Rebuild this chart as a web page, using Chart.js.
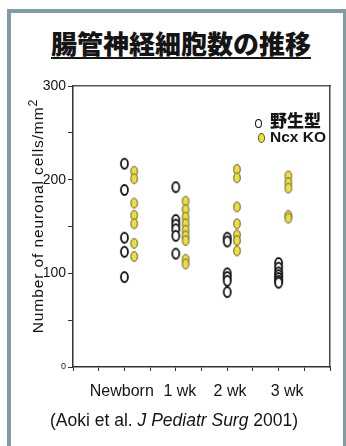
<!DOCTYPE html>
<html>
<head>
<meta charset="utf-8">
<script src="https://cdn.jsdelivr.net/npm/chart.js@4/dist/chart.umd.min.js"></script>
<style>
    html, body { margin: 0; padding: 0; background: #fff; }
    #wrap { position: relative; width: 346px; height: 446px; background: #fff; overflow: hidden; }
    .bar { position: absolute; background: #7f9ea4; }
    #title {
        position: absolute; top: 30px; left: 8px; width: 346px; text-align: center;
        font: 900 26px/26px "Noto Sans CJK JP", sans-serif; color: #151515;
        text-decoration: underline; text-decoration-thickness: 2px; text-underline-offset: 3px;
    }
    #chart { position: absolute; left: 0; top: 0; }
    #ytitle {
        position: absolute; left: -92px; top: 207px; width: 260px; height: 18px;
        text-align: center; transform: rotate(-90deg); letter-spacing: 0.9px;
        font: 15.5px/18px "Liberation Sans", sans-serif; color: #111;
    }
    #ytitle sup { font-size: 0.8em; line-height: 0; }
    #legend { position: absolute; left: 254px; top: 107px; color: #151515; }
    #legend .row { height: 20px; line-height: 20px; white-space: nowrap; }
    #legend .mk { display: inline-block; vertical-align: middle; border-radius: 50%; box-sizing: border-box; }
    #source {
        position: absolute; left: 50px; top: 410px; white-space: nowrap;
        font: 17.5px/20px "Liberation Sans", sans-serif; color: #151515;
    }
</style>
</head>
<body>
<div id="wrap">
    <div class="bar" style="left:7px;top:9px;width:339px;height:4px"></div>
    <div class="bar" style="left:7px;top:9px;width:4px;height:437px"></div>
    <div class="bar" style="left:343px;top:9px;width:3px;height:437px"></div>
    <div id="title">腸管神経細胞数の推移</div>
    <canvas id="chart" width="346" height="446"></canvas>
    <div id="ytitle">Number of neuronal cells/mm<sup>2</sup></div>
    <div id="legend"></div>
    <div id="source">(Aoki et al. <i>J Pediatr Surg</i> 2001)</div>
</div>
<script>
// data
const groups = ['Newborn', '1 wk', '2 wk', '3 wk'];
const seriesNames = ['野生型', 'Ncx KO'];
const wildType = [
    [217, 189, 138, 123, 96],
    [192, 157, 152, 147, 140, 121],
    [138, 134, 100, 96, 92, 80],
    [111, 106, 101, 98, 95, 92, 90]
];
const ncxKO = [
    [209, 201, 175, 162, 153, 132, 118],
    [177, 168, 160, 153, 146, 140, 135, 115, 110],
    [211, 202, 171, 153, 141, 135, 124],
    [204, 197, 191, 162, 159]
];
const yTicks = [0, 100, 200, 300];

// where each group sits on the 0..10 x axis, and where its label is centred
const groupPos = [2, 4, 6, 8];
const labelPos = [1.9, 4.16, 6.11, 8.33];
const koShift = 0.38;

const FONT = '"Liberation Sans", sans-serif';
const WT_FILL = '#ffffff', WT_LINE = '#151515';
const KO_FILL = '#f0e12e', KO_LINE = '#555555';

function ellipseMarker(w, h, fill, stroke, lw) {
    const c = document.createElement('canvas');
    c.width = w + 4;
    c.height = h + 4;
    const g = c.getContext('2d');
    g.beginPath();
    g.ellipse(c.width / 2, c.height / 2, w / 2, h / 2, 0, 0, Math.PI * 2);
    g.fillStyle = fill;
    g.fill();
    g.lineWidth = lw;
    g.strokeStyle = stroke;
    g.stroke();
    return c;
}

const toPoints = (sets, shift) =>
    sets.flatMap((vals, i) => vals.map(v => ({ x: groupPos[i] + shift, y: v })));

const datasets = [
    {
        label: seriesNames[0],
        data: toPoints(wildType, 0),
        pointStyle: ellipseMarker(7, 10, WT_FILL, WT_LINE, 1.8)
    },
    {
        label: seriesNames[1],
        data: toPoints(ncxKO, koShift),
        pointStyle: ellipseMarker(6.5, 9.5, KO_FILL, KO_LINE, 1)
    }
];

// html legend
const legend = document.getElementById('legend');
seriesNames.forEach((name, i) => {
    const row = document.createElement('div');
    row.className = 'row';
    const mk = document.createElement('span');
    mk.className = 'mk';
    mk.style.width = '7px';
    mk.style.height = i === 0 ? '9px' : '10px';
    mk.style.marginLeft = i === 0 ? '1px' : '4px';
    mk.style.marginRight = i === 0 ? '8px' : '5px';
    mk.style.background = i === 0 ? WT_FILL : KO_FILL;
    mk.style.border = i === 0 ? '1.3px solid ' + WT_LINE : '1px solid ' + KO_LINE;
    const txt = document.createElement('span');
    txt.textContent = name;
    txt.style.font = i === 0 ? '900 17px "Noto Sans CJK JP", sans-serif' : 'bold 15.5px ' + FONT;
    row.appendChild(mk);
    row.appendChild(txt);
    legend.appendChild(row);
});

const axisColor = '#333';

new Chart(document.getElementById('chart').getContext('2d'), {
    type: 'scatter',
    data: { datasets: datasets },
    options: {
        responsive: false,
        animation: false,
        layout: { padding: { top: 86, right: 16, left: 0, bottom: 0 } },
        plugins: {
            legend: { display: false },
            tooltip: { enabled: false }
        },
        scales: {
            x: {
                type: 'linear',
                position: 'bottom',
                min: 0,
                max: 10,
                afterFit: s => { s.height = 79; },
                // integer ticks carry the marks, label ticks carry the group names
                afterBuildTicks: s => {
                    const t = [];
                    for (let i = 0; i <= 10; i++) t.push({ value: i });
                    labelPos.forEach(v => t.push({ value: v }));
                    s.ticks = t.sort((a, b) => a.value - b.value);
                },
                ticks: {
                    autoSkip: false,
                    maxRotation: 0,
                    padding: 11,
                    color: '#151515',
                    font: { family: FONT, size: 16 },
                    callback: v => {
                        const i = labelPos.indexOf(v);
                        return i >= 0 ? groups[i] : '';
                    }
                },
                grid: {
                    drawOnChartArea: false,
                    tickLength: 4,
                    lineWidth: 1,
                    tickColor: ctx => (ctx.tick && Number.isInteger(ctx.tick.value) ? axisColor : 'rgba(0,0,0,0)')
                },
                border: { color: axisColor, width: 1.5 }
            },
            xTop: {
                type: 'linear',
                position: 'top',
                display: true,
                min: 0,
                max: 10,
                afterFit: s => { s.height = 0; },
                ticks: { display: false },
                grid: { display: false, drawTicks: false },
                border: { color: '#555', width: 1.5 }
            },
            y: {
                type: 'linear',
                min: 0,
                max: 300,
                afterFit: s => { s.width = 73; },
                ticks: {
                    stepSize: 50,
                    padding: 2,
                    color: '#151515',
                    font: ctx => ({ family: FONT, size: ctx.tick && ctx.tick.value === 0 ? 9 : 14 }),
                    callback: v => (yTicks.includes(v) ? String(v) : '')
                },
                grid: { drawOnChartArea: false, tickLength: 5, color: axisColor, lineWidth: 1 },
                border: { color: axisColor, width: 1.5 }
            },
            yRight: {
                type: 'linear',
                position: 'right',
                display: true,
                min: 0,
                max: 300,
                afterFit: s => { s.width = 0; },
                ticks: { display: false },
                grid: { display: false, drawTicks: false },
                border: { color: '#444', width: 1.5 }
            }
        }
    }
});
</script>
</body>
</html>
